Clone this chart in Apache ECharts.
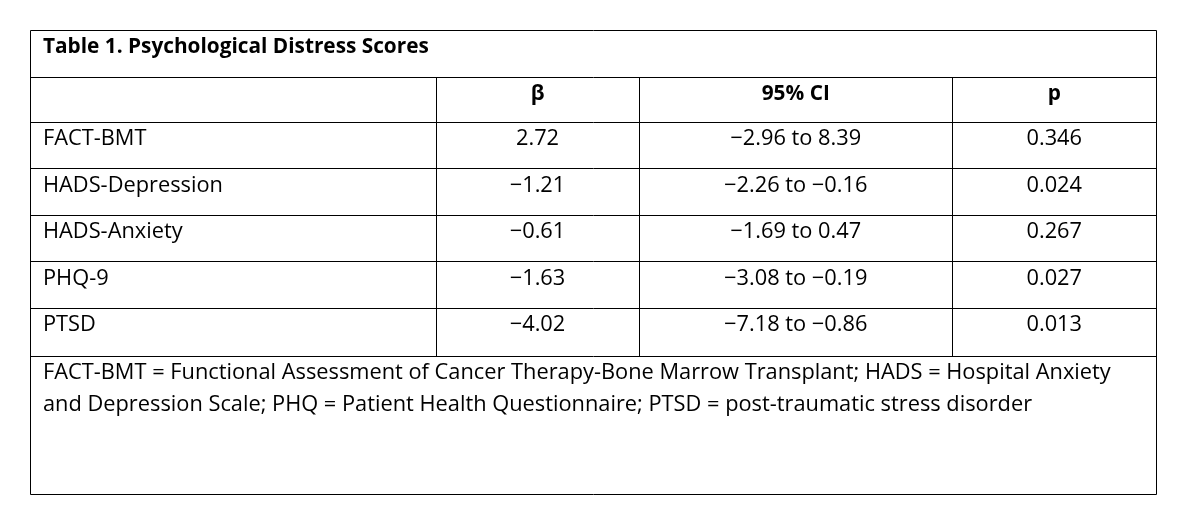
<!DOCTYPE html>
<html>
<head>
<meta charset="utf-8">
<script src="https://cdn.jsdelivr.net/npm/echarts@6/dist/echarts.min.js"></script>
<style>
  html, body { margin: 0; padding: 0; background: #ffffff; }
  #chart { width: 1194px; height: 525px; }
</style>
</head>
<body>
<div id="chart"></div>
<script>
// ---- data ----
const tableTitle = 'Table 1. Psychological Distress Scores';
const headers = ['', 'β', '95% CI', 'p'];
const measures = ['FACT-BMT', 'HADS-Depression', 'HADS-Anxiety', 'PHQ-9', 'PTSD'];
const betas = [2.72, -1.21, -0.61, -1.63, -4.02];
const ciLow = [-2.96, -2.26, -1.69, -3.08, -7.18];
const ciHigh = [8.39, -0.16, 0.47, -0.19, -0.86];
const pValues = ['0.346', '0.024', '0.267', '0.027', '0.013'];
const footnoteLines = [
  'FACT-BMT = Functional Assessment of Cancer Therapy-Bone Marrow Transplant; HADS = Hospital Anxiety',
  'and Depression Scale; PHQ = Patient Health Questionnaire; PTSD = post-traumatic stress disorder'
];

// ---- layout (table units = pixels of the grid) ----
const TW = 1126, TH = 464;
const colEdges = [0, 406, 609, 922.5, 1126];
const rowEdges = [0, 47, 92, 138.5, 185, 231.5, 278, 326, 464];
const padLeft = 13;
const textOffset = 17;
const lineGap = 32;
const FONT = '"Open Sans", "Noto Sans", "DejaVu Sans", sans-serif';
const FSIZE = 21.8;
const FSIZE_BOLD = 20.8;

function fmt(v) {
  return v.toFixed(2).replace('-', '\u2212');
}

// Build text cells
const cells = [];
cells.push({ value: [0, 0], text: tableTitle, align: 'left', bold: true });
headers.forEach((h, c) => {
  if (h) cells.push({ value: [c, 1], text: h, align: 'center', bold: true });
});
measures.forEach((m, i) => {
  const r = i + 2;
  cells.push({ value: [0, r], text: m, align: 'left', bold: false });
  cells.push({ value: [1, r], text: fmt(betas[i]), align: 'center', bold: false });
  cells.push({ value: [2, r], text: fmt(ciLow[i]) + ' to ' + fmt(ciHigh[i]), align: 'center', bold: false });
  cells.push({ value: [3, r], text: pValues[i], align: 'center', bold: false });
});
footnoteLines.forEach((t, k) => {
  cells.push({ value: [0, 7], text: t, align: 'left', bold: false, line: k });
});

// Build rules: [x1, y1, x2, y2] in table units
const rules = [];
rules.push([0, 0, TW, 0]);
rules.push([0, TH, TW, TH]);
rules.push([0, 0, 0, TH]);
rules.push([TW, 0, TW, TH]);
for (let r = 1; r <= 7; r++) rules.push([0, rowEdges[r], TW, rowEdges[r]]);
for (let c = 1; c <= 3; c++) rules.push([colEdges[c], rowEdges[1], colEdges[c], rowEdges[7]]);

const chart = echarts.init(document.getElementById('chart'), null, { renderer: 'canvas' });

const crisp = v => Math.round(v - 0.5) + 0.5;

chart.setOption({
  backgroundColor: '#ffffff',
  animation: false,
  grid: { left: 30, top: 30, width: TW, height: TH },
  xAxis: { type: 'value', min: 0, max: TW, show: false },
  yAxis: { type: 'value', min: 0, max: TH, inverse: true, show: false },
  series: [
    {
      type: 'custom',
      coordinateSystem: 'cartesian2d',
      data: rules,
      silent: true,
      renderItem: function (params, api) {
        const p1 = api.coord([api.value(0), api.value(1)]);
        const p2 = api.coord([api.value(2), api.value(3)]);
        return {
          type: 'line',
          shape: { x1: crisp(p1[0]), y1: crisp(p1[1]), x2: crisp(p2[0]), y2: crisp(p2[1]) },
          style: { stroke: '#000000', lineWidth: 1 }
        };
      }
    },
    {
      type: 'custom',
      coordinateSystem: 'cartesian2d',
      data: cells,
      silent: true,
      renderItem: function (params, api) {
        const cell = cells[params.dataIndex];
        const c = cell.value[0], r = cell.value[1];
        let xUnit;
        if (cell.align === 'left') xUnit = colEdges[c] + padLeft;
        else xUnit = (colEdges[c] + colEdges[c + 1]) / 2;
        const yUnit = rowEdges[r] + textOffset + (cell.line || 0) * lineGap;
        const p = api.coord([xUnit, yUnit]);
        return {
          type: 'text',
          x: p[0],
          y: p[1],
          style: {
            text: cell.text,
            fill: '#000000',
            font: (cell.bold ? 'bold ' + FSIZE_BOLD : FSIZE) + 'px ' + FONT,
            textAlign: cell.align,
            textVerticalAlign: 'middle'
          }
        };
      }
    }
  ]
});
</script>
</body>
</html>
